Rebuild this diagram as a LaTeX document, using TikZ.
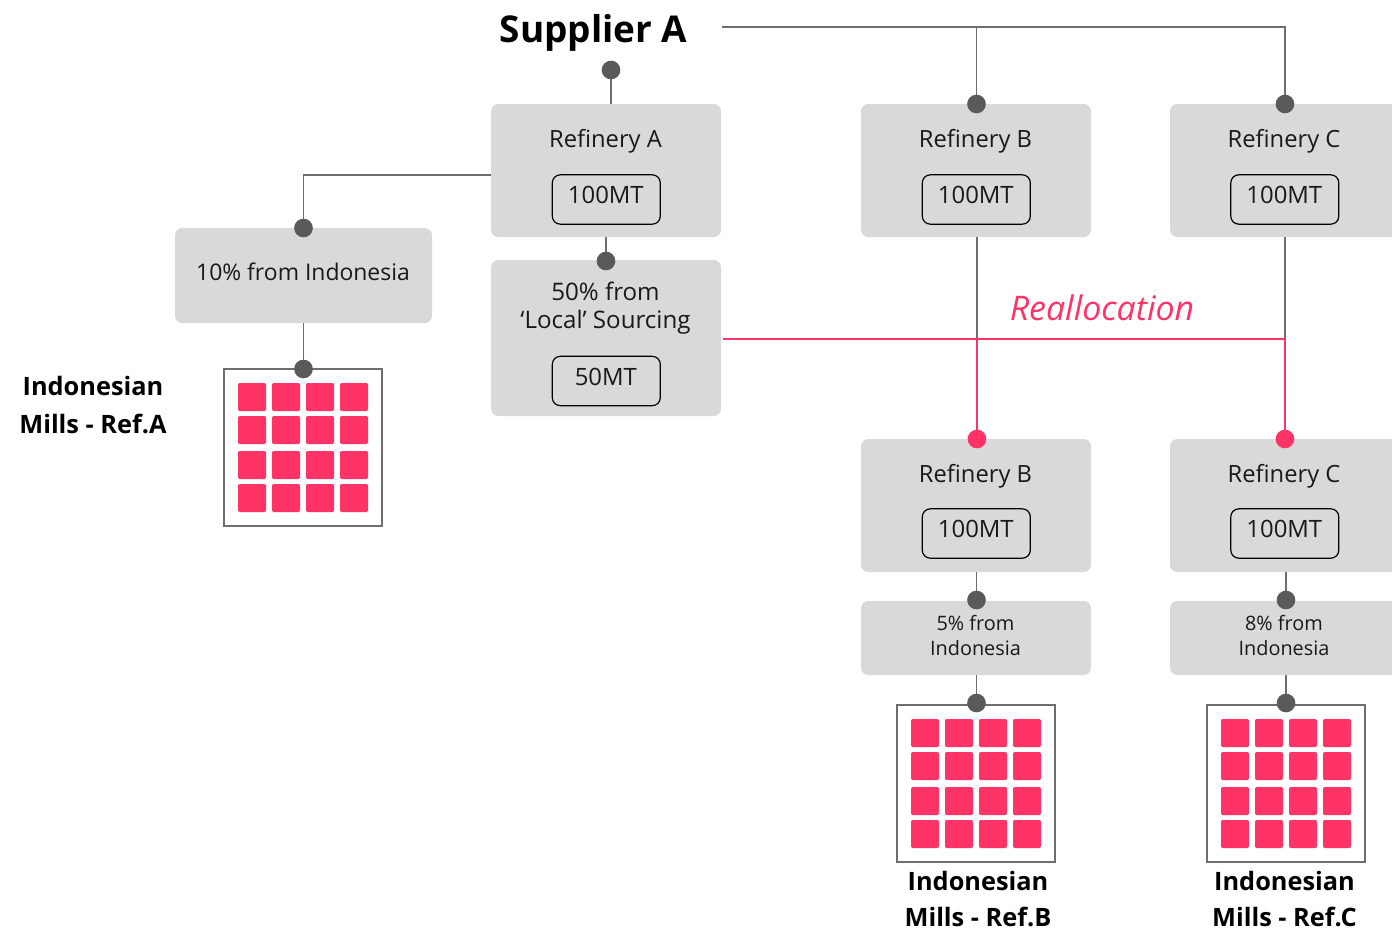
\documentclass[tikz,border=0pt]{standalone}
\usepackage{fontspec}
\setmainfont{Open Sans}
\definecolor{pinkc}{HTML}{FF3366}
\definecolor{boxc}{HTML}{D9D9D9}
\definecolor{dotc}{HTML}{5A5A5A}
\definecolor{linec}{HTML}{6E6E6E}
\pgfdeclarelayer{bottomlayer}
\pgfdeclarelayer{linklayer}
\pgfsetlayers{bottomlayer,linklayer,main}
\newcommand{\bxx}[5]{\node[panel,minimum width={(#4-#2)*0.75pt},minimum height={(#5-#3)*0.75pt}] (#1) at ({(#2+#4)/2},{(#3+#5)/2}) {};}
\newcommand{\qty}[4]{\node[qtybox,minimum width=81pt,minimum height=37pt] (#1) at (#2,#3) {};\node[qlbl] (#1t) at (#2-0.5,{#3-4.5}) {#4};}
\newcommand{\milll}[3]{%
  \node[millbox] (#1) at (#2,#3) {};
  \foreach \i/\cx in {0/14,1/48,2/82,3/116}{
    \foreach \j/\cy in {0/14,1/47,2/82,3/115}{
      \node[cell] (#1c\i\j) at ({#2-79+14+\cx},{#3-78.5+\cy+14}) {};
    }
  }
}
\tikzset{
  panel/.style={fill=boxc,rounded corners=5.5pt,inner sep=0pt,outer sep=0pt},
  qtybox/.style={draw=black,line width=0.9pt,rounded corners=6pt,inner sep=0pt,outer sep=0pt},
  qlbl/.style={font=\fontsize{17.9}{21}\selectfont,text=black!90,inner sep=0pt},
  lbl/.style={font=\fontsize{17.8}{21}\selectfont,text=black!90,inner sep=0pt,align=center},
  wide/.style={font=\fontsize{17.2}{21}\selectfont,text=black!90,inner sep=0pt,align=center},
  loclbl/.style={font=\fontsize{18.1}{21}\selectfont,text=black!90,inner sep=0pt,align=center},
  small/.style={font=\fontsize{14.9}{18.6}\selectfont,text=black!90,inner sep=0pt,align=center},
  head/.style={font=\fontsize{19}{28}\selectfont\bfseries,text=black,inner sep=0pt,align=center},
  headlow/.style={font=\fontsize{19}{27}\selectfont\bfseries,text=black,inner sep=0pt,align=center},
  dotn/.style={circle,fill=dotc,minimum size=14pt,inner sep=0pt,outer sep=0pt},
  pdot/.style={circle,fill=pinkc,minimum size=14pt,inner sep=0pt,outer sep=0pt},
  conn/.style={draw=linec,line width=0.95pt},
  pconn/.style={draw=pinkc,line width=0.95pt},
  millbox/.style={draw=linec,line width=0.95pt,fill=white,minimum width=118.5pt,minimum height=117.75pt,inner sep=0pt,outer sep=0pt},
  cell/.style={fill=pinkc,rounded corners=1pt,minimum size=21pt,inner sep=0pt,outer sep=0pt},
}
\begin{document}
\begin{tikzpicture}[x=0.75pt,y=-0.75pt]
\useasboundingbox (0,0) rectangle (1392,929);
\begin{pgfonlayer}{bottomlayer}
\bxx{ra}{491}{104}{721}{237}
\bxx{rb}{861}{104}{1091}{237}
\bxx{rc}{1170}{104}{1400}{237}
\bxx{ind}{175}{228}{432}{323}
\bxx{loc}{491}{260}{721}{416}
\bxx{lb}{861}{439}{1091}{572}
\bxx{lc}{1170}{439}{1400}{572}
\bxx{sb}{861}{601}{1091}{675}
\bxx{sc}{1170}{601}{1400}{675}
\milll{ma}{303}{447.5}
\milll{mb}{976}{783.5}
\milll{mc}{1286}{783.5}
\end{pgfonlayer}
% text
\node[font=\fontsize{27.7}{34}\selectfont\bfseries,inner sep=0pt] (sup) at (593.5,33) {Supplier A};
\coordinate (supout) at (722,27);
\node[lbl] (rat) at (605.5,141) {Refinery A};
\node[lbl] (rbt) at (975.5,141) {Refinery B};
\node[lbl] (rct) at (1284,141) {Refinery C};
\node[lbl] (lbt) at (975.5,476) {Refinery B};
\node[lbl] (lct) at (1284,476) {Refinery C};
\node[wide] (indt) at (303,272) {10\% from Indonesia};
\node[loclbl] (loct) at (605.5,308) {50\% from\\‘Local’ Sourcing};
\qty{qa}{606.3}{199.5}{100MT}
\qty{qb}{976.3}{199.5}{100MT}
\qty{qc}{1284.8}{199.5}{100MT}
\qty{ql}{606.3}{381}{50MT}
\qty{qlb}{976.3}{533.5}{100MT}
\qty{qlc}{1284.8}{533.5}{100MT}
\node[small] (sbt) at (975.5,635.5) {5\% from\\Indonesia};
\node[small] (sct) at (1284,635.5) {8\% from\\Indonesia};
\node[head] (hA) at (93,405) {Indonesian\\Mills - Ref.A};
\node[headlow] (hB) at (978,899.5) {Indonesian\\Mills - Ref.B};
\node[headlow] (hC) at (1284.5,899.5) {Indonesian\\Mills - Ref.C};
\node[font=\fontsize{25.4}{30}\selectfont\itshape,text=pinkc,inner sep=0pt] (real) at (1102,308) {Reallocation};
% dots
\node[dotn] (d0) at (611,70) {};
\node[dotn] (d1) at (976.5,104) {};
\node[dotn] (d2) at (1285,104) {};
\node[dotn] (d3) at (303.5,228) {};
\node[dotn] (d4) at (606,261) {};
\node[dotn] (d5) at (303.5,369) {};
\node[pdot] (p1) at (977,439) {};
\node[pdot] (p2) at (1285,439) {};
\node[dotn] (d6) at (976.5,600) {};
\node[dotn] (d7) at (1286,600) {};
\node[dotn] (d8) at (976.5,703) {};
\node[dotn] (d9) at (1286,703) {};
\coordinate (j1) at (977,339);
\coordinate (j2) at (1285,339);
\coordinate (locout) at (723,339);
% connectors
\begin{pgfonlayer}{linklayer}
\draw[conn] (supout) -| (d2);
\draw[conn] (d1) -- (d1 |- supout);
\draw[conn] (d0) -- (d0 |- ra.north);
\draw[conn] (ra.west |- 0,175) -| (d3);
\draw[conn] (d4) -- (d4 |- ra.south);
\draw[conn] (ind.south -| d5) -- (d5);
\draw[conn] (rb.south -| j1) -- (j1);
\draw[conn] (rc.south -| j2) -- (j2);
\draw[pconn] (locout) -- (j2);
\draw[pconn] (j1) -- (p1);
\draw[pconn] (j2) -- (p2);
\draw[conn] (lb.south -| d6) -- (d6);
\draw[conn] (lc.south -| d7) -- (d7);
\draw[conn] (sb.south -| d8) -- (d8);
\draw[conn] (sc.south -| d9) -- (d9);
\end{pgfonlayer}
\end{tikzpicture}
\end{document}
